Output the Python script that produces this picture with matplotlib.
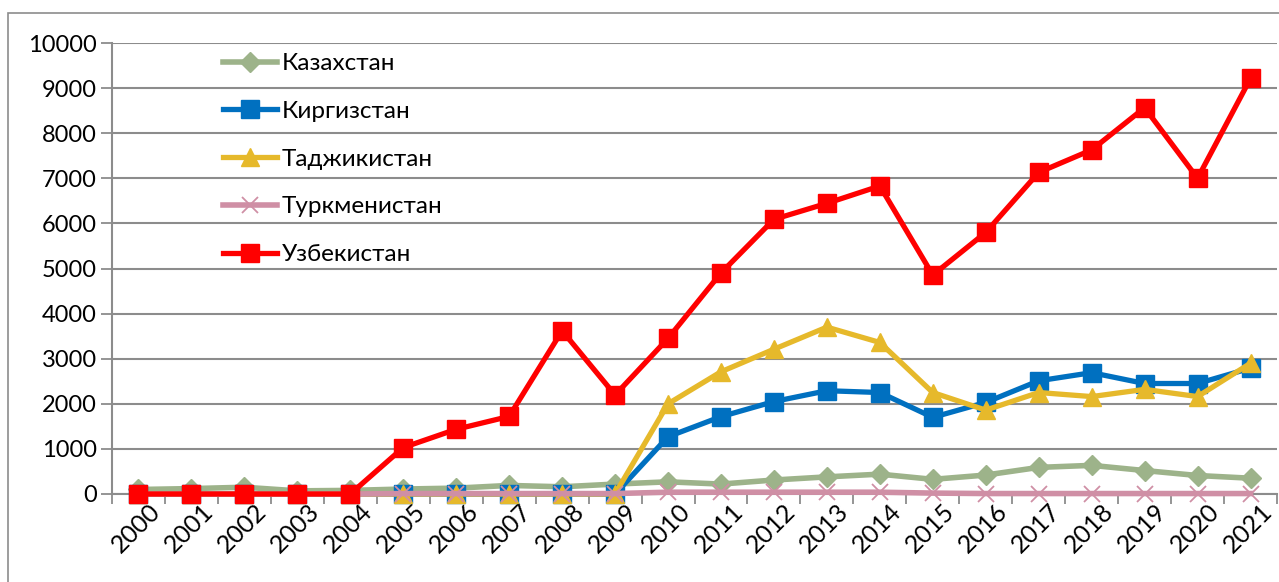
import matplotlib
matplotlib.use("Agg")
import matplotlib.pyplot as plt
import matplotlib.transforms as mtransforms
from matplotlib.patches import Rectangle
import numpy as np

years = [str(y) for y in range(2000, 2022)]
kazakhstan = [100, 120, 150, 70, 80, 110, 130, 190, 160, 220, 270, 220, 310, 380, 440, 325, 420, 590, 635, 520, 410, 350]
kyrgyzstan = [0, 0, 0, 0, 0, 0, 0, 0, 0, 0, 1270, 1715, 2050, 2290, 2250, 1700, 2030, 2510, 2690, 2450, 2450, 2790]
tajikistan = [0, 0, 0, 0, 0, 0, 0, 0, 0, 0, 2000, 2710, 3210, 3700, 3360, 2250, 1860, 2250, 2160, 2320, 2160, 2900]
turkmenistan = [0, 0, 0, 0, 0, 10, 10, 10, 10, 10, 40, 40, 40, 40, 40, 20, 10, 10, 10, 10, 10, 10]
uzbekistan = [0, 0, 0, 0, 0, 1030, 1435, 1720, 3620, 2195, 3450, 4900, 6090, 6445, 6830, 4855, 5800, 7130, 7630, 8565, 7000, 9215]
series_names = ["Казахстан", "Киргизстан", "Таджикистан", "Туркменистан", "Узбекистан"]

plt.rcParams['font.family'] = ['Lato', 'DejaVu Sans']

W, H = 1279, 582
fig = plt.figure(figsize=(W / 100, H / 100), dpi=100)
ax = fig.add_axes([112 / W, 1 - 494 / H, (1277 - 112) / W, (494 - 43) / H])

# outer chart border
fig.patches.append(Rectangle((8 / W, -0.05), 1.0, (H - 13) / H + 0.05, transform=fig.transFigure,
                             fill=False, edgecolor='#8c8c8c', linewidth=1.2))

x = np.arange(len(years))
styles = [
    dict(color='#9db38a', marker='D', markersize=10, lw=4.0),
    dict(color='#0070c0', marker='s', markersize=12.5, lw=3.8),
    dict(color='#e6b92b', marker='^', markersize=13.5, lw=3.8),
    dict(color='#cf8fa5', marker='x', markersize=11, lw=4.0, markeredgewidth=1.3),
    dict(color='#ff0000', marker='s', markersize=12.5, lw=3.8),
]
data = [kazakhstan, kyrgyzstan, tajikistan, turkmenistan, uzbekistan]
for name, vals, st in zip(series_names, data, styles):
    ax.plot(x, vals, label=name, clip_on=False, zorder=3, **st)

ax.set_xlim(-0.5, len(years) - 0.5)
ax.set_ylim(0, 10000)
ax.set_yticks(np.arange(0, 10001, 1000))
ax.set_yticklabels([str(v) for v in range(0, 10001, 1000)], fontsize=17)
ax.yaxis.grid(True, color='#8c8c8c', linewidth=1.5)
ax.set_axisbelow(True)

ax.set_xticks(np.arange(-0.5, len(years), 1.0))
ax.set_xticklabels([])
ax.set_xticks(x, minor=True)
ax.set_xticklabels(years, minor=True, rotation=45, ha='right', va='top',
                   rotation_mode='anchor', fontsize=18)
ax.tick_params(axis='x', which='minor', length=0, pad=4)
ax.tick_params(axis='x', which='major', length=7, color='#8c8c8c', width=1.3, direction='out')
ax.tick_params(axis='y', length=8, color='#8c8c8c', width=1.3, pad=3)
offset = mtransforms.ScaledTranslation(10 / 100, 0, fig.dpi_scale_trans)
for lab in ax.get_xticklabels(minor=True):
    lab.set_transform(lab.get_transform() + offset)

for s in ['top', 'right']:
    ax.spines[s].set_visible(False)
for s in ['left', 'bottom']:
    ax.spines[s].set_color('#8c8c8c')
    ax.spines[s].set_linewidth(1.5)

leg = ax.legend(loc='upper left', bbox_to_anchor=(0.083, 1.01), frameon=False, fontsize=17.5,
                handlelength=2.2, handletextpad=0.2, labelspacing=1.1, borderaxespad=0.2)

fig.savefig('out.png', dpi=100)
